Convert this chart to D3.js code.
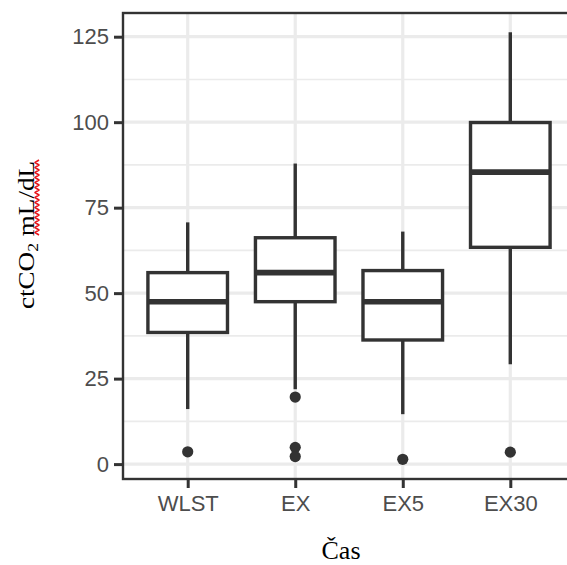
<!DOCTYPE html>
<html>
<head>
<meta charset="utf-8">
<script src="https://cdn.jsdelivr.net/npm/d3@7"></script>
<style>
  html, body { margin: 0; padding: 0; background: #fff; }
  svg { display: block; }
</style>
</head>
<body>
<script>
// Sampling times and five-number summaries of ctCO2 (mL/dL)
const categories  = ["WLST", "EX", "EX5", "EX30"];
const whiskerLow  = [16.1, 21.9, 14.6, 29.2];
const q1          = [38.5, 47.5, 36.3, 63.4];
const median      = [47.5, 56.0, 47.5, 85.4];
const q3          = [56.0, 66.2, 56.6, 99.9];
const whiskerHigh = [70.7, 87.9, 68.0, 126.3];

// Outlying observations
const outlierCategory = ["WLST", "EX", "EX", "EX", "EX5", "EX30"];
const outlierValue    = [3.6, 19.6, 4.9, 2.2, 1.4, 3.5];

// Axis ticks
const yTicks      = [0, 25, 50, 75, 100, 125];
const yMinorTicks = [12.5, 37.5, 62.5, 87.5, 112.5];

const width = 567, height = 565;
const panel = { left: 123, right: 575, top: 13, bottom: 479 };
const ink = "#333333";

const svg = d3.select("body").append("svg")
  .attr("width", width).attr("height", height)
  .attr("viewBox", `0 0 ${width} ${height}`);

const x = d3.scalePoint()
  .domain(categories)
  .range([187.7, 510.3]);

const y = d3.scaleLinear()
  .domain([0, 125])
  .range([464.1, 36.7]);

const boxWidth = x.step() * 0.74;

const boxes = categories.map((c, i) => ({
  cat: c, lo: whiskerLow[i], q1: q1[i], med: median[i], q3: q3[i], hi: whiskerHigh[i]
}));
const outliers = outlierValue.map((v, i) => ({ cat: outlierCategory[i], v }));

// Panel grid
const grid = svg.append("g");
grid.selectAll(".minor").data(yMinorTicks).join("line")
  .attr("x1", panel.left).attr("x2", panel.right)
  .attr("y1", d => y(d)).attr("y2", d => y(d))
  .attr("stroke", "#EBEBEB").attr("stroke-width", 1.6);
grid.selectAll(".major").data(yTicks).join("line")
  .attr("x1", panel.left).attr("x2", panel.right)
  .attr("y1", d => y(d)).attr("y2", d => y(d))
  .attr("stroke", "#EBEBEB").attr("stroke-width", 3.2);
grid.selectAll(".vmajor").data(categories).join("line")
  .attr("x1", d => x(d)).attr("x2", d => x(d))
  .attr("y1", panel.top).attr("y2", panel.bottom)
  .attr("stroke", "#EBEBEB").attr("stroke-width", 3.2);

// Boxplots
const g = svg.append("g");
const bx = g.selectAll("g.box").data(boxes).join("g").attr("class", "box");

bx.append("line") // upper whisker
  .attr("x1", d => x(d.cat)).attr("x2", d => x(d.cat))
  .attr("y1", d => y(d.q3)).attr("y2", d => y(d.hi))
  .attr("stroke", ink).attr("stroke-width", 3.4);
bx.append("line") // lower whisker
  .attr("x1", d => x(d.cat)).attr("x2", d => x(d.cat))
  .attr("y1", d => y(d.q1)).attr("y2", d => y(d.lo))
  .attr("stroke", ink).attr("stroke-width", 3.4);
bx.append("rect")
  .attr("x", d => x(d.cat) - boxWidth / 2)
  .attr("width", boxWidth)
  .attr("y", d => y(d.q3))
  .attr("height", d => y(d.q1) - y(d.q3))
  .attr("fill", "#fff").attr("stroke", ink).attr("stroke-width", 3.4);
bx.append("line") // median
  .attr("x1", d => x(d.cat) - boxWidth / 2).attr("x2", d => x(d.cat) + boxWidth / 2)
  .attr("y1", d => y(d.med)).attr("y2", d => y(d.med))
  .attr("stroke", ink).attr("stroke-width", 5.6);

g.selectAll("circle").data(outliers).join("circle")
  .attr("cx", d => x(d.cat)).attr("cy", d => y(d.v))
  .attr("r", 5.6).attr("fill", ink);

// Panel border (right side runs past the canvas)
svg.append("rect")
  .attr("x", panel.left).attr("y", panel.top)
  .attr("width", panel.right - panel.left).attr("height", panel.bottom - panel.top)
  .attr("fill", "none").attr("stroke", ink).attr("stroke-width", 2.4);

// Axes
const tickFont = "'Liberation Sans', Arial, sans-serif";

const yAxis = svg.append("g")
  .attr("transform", `translate(${panel.left},0)`)
  .call(d3.axisLeft(y).tickValues(yTicks).tickSize(9).tickPadding(5));
const xAxis = svg.append("g")
  .attr("transform", `translate(0,${panel.bottom})`)
  .call(d3.axisBottom(x).tickSize(9).tickPadding(7));

[yAxis, xAxis].forEach(a => {
  a.select(".domain").remove();
  a.selectAll(".tick line").attr("stroke", ink).attr("stroke-width", 3);
  a.selectAll(".tick text")
    .attr("fill", "#4D4D4D")
    .style("font-family", tickFont)
    .style("font-size", "22px");
});

// Axis titles
const titleFont = "'Liberation Serif', 'Times New Roman', serif";

svg.append("text")
  .attr("x", 341).attr("y", 559)
  .attr("text-anchor", "middle")
  .style("font-family", titleFont)
  .style("font-size", "26px")
  .attr("fill", "#000")
  .text("Čas");

const yTitle = svg.append("text")
  .attr("transform", "translate(34,235) rotate(-90)")
  .attr("text-anchor", "middle")
  .style("font-family", titleFont)
  .style("font-size", "23px")
  .attr("fill", "#000")
  .attr("textLength", 148)
  .attr("lengthAdjust", "spacingAndGlyphs");
yTitle.append("tspan").text("ctCO");
yTitle.append("tspan").attr("dy", 4).style("font-size", "15px").text("2");
yTitle.append("tspan").attr("dy", -4).text(" mL/dL");

// Red wavy underline under the unit
const wave = d3.range(160, 237, 2.5).map((yy, i) => [i % 2 ? 35 : 39, yy]);
svg.append("path")
  .attr("d", d3.line()(wave))
  .attr("fill", "none")
  .attr("stroke", "#E8141B")
  .attr("stroke-width", 1.5)
  .attr("stroke-linejoin", "round");
</script>
</body>
</html>
